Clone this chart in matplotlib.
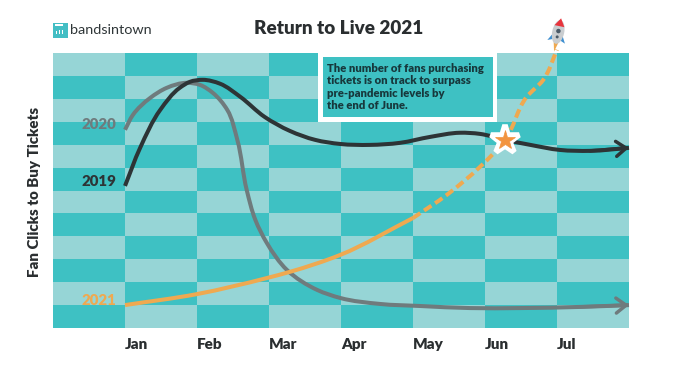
import numpy as np
import matplotlib
matplotlib.use("Agg")
import matplotlib.pyplot as plt
from matplotlib.path import Path
from matplotlib.patches import PathPatch, Rectangle, Polygon, Ellipse
from matplotlib.colors import ListedColormap
from matplotlib.transforms import Affine2D

plt.rcParams['font.family'] = ['Lato', 'DejaVu Sans']

TITLE = "Return to Live 2021"
YLABEL = "Fan Clicks to Buy Tickets"
MONTHS = ["Jan", "Feb", "Mar", "Apr", "May", "Jun", "Jul"]
NOTE = ("The number of fans purchasing\ntickets is on track to surpass\n"
        "pre-pandemic levels by\nthe end of June.")

x_2019 = [0, .21, .49, .76, .9, 1.08, 1.32, 1.6, 1.94, 2.29, 2.64, 2.99, 3.4, 3.82, 4.24, 4.65, 4.93, 5.28, 5.63, 6.04, 6.46, 7.0]
y_2019 = [6.2, 7.86, 9.52, 10.48, 10.74, 10.83, 10.66, 10.09, 9.21, 8.6, 8.21, 8.03, 7.99, 8.08, 8.34, 8.52, 8.47, 8.21, 7.99, 7.77, 7.73, 7.86]
x_2020 = [0, .11, .35, .58, .86, 1.04, 1.22, 1.42, 1.56, 1.69, 1.81, 1.97, 2.25, 2.67, 2.99, 3.54, 4.1, 4.79, 5.49, 6.32, 7.0]
y_2020 = [8.65, 9.3, 10.04, 10.48, 10.7, 10.61, 10.26, 9.52, 8.21, 6.03, 4.72, 3.71, 2.53, 1.66, 1.31, 1.05, .96, .87, .87, .92, 1.0]
x_2021_actual = [0, 1, 1.97, 2.29, 2.99, 4.0]
y_2021_actual = [1.0, 1.48, 2.18, 2.45, 3.19, 4.8]
x_2021_proj = [4.0, 4.47, 4.93, 5.28, 5.58, 5.81, 6.0]
y_2021_proj = [4.8, 5.81, 7.03, 8.21, 10.09, 10.83, 12.14]
star_x, star_y = 5.28, 8.21

TEAL, PALE = "#3EC1C3", "#96D5D6"
C2019, C2020, C2021 = "#2D3436", "#6F7B7D", "#EFA950"
W, H = 678, 381


def smooth_path(x, y):
    """Chord-length Catmull-Rom through the read points, as Bezier segments."""
    p = np.column_stack([x, y])
    chord = np.hypot(np.diff(p[:, 0]) * 72, np.diff(p[:, 1]) * 22.9)
    t = np.concatenate([[0], np.cumsum(chord)])
    m = np.gradient(p, t, axis=0)
    verts, codes = [p[0]], [Path.MOVETO]
    for i in range(len(p) - 1):
        h = t[i + 1] - t[i]
        verts += [p[i] + m[i] * h / 3, p[i + 1] - m[i + 1] * h / 3, p[i + 1]]
        codes += [Path.CURVE4] * 3
    return Path(np.array(verts), codes)


fig = plt.figure(figsize=(W / 100, H / 100), dpi=100, facecolor="white")
ax = fig.add_axes([53 / W, 1 - 328 / H, 576 / W, 275 / H])
ax.set_xlim(-1, 7)
ax.set_ylim(0, 12)

# checkerboard background
cells = np.fromfunction(lambda r, c: (r + c) % 2, (12, 8))
ax.pcolormesh(np.arange(-1, 8), np.arange(0, 13), cells,
              cmap=ListedColormap([TEAL, PALE]), zorder=0, linewidth=0, antialiased=False)
for s in ax.spines.values():
    s.set_visible(False)

ax.set_xticks(range(7))
ax.set_xticklabels(MONTHS, fontsize=11, fontweight="heavy", color="#2A2E30", ha="left")
ax.tick_params(axis="x", length=0, pad=7)
ax.set_yticks([])
fig.text(35 / W, 1 - 192 / H, YLABEL, rotation=90, fontsize=10.8, fontweight="heavy",
         color="#2A2E30", ha="center", va="center")
fig.text(339 / W, 1 - 29 / H, TITLE, fontsize=13.6, fontweight="heavy", color="#2A2E30",
         ha="center", va="center")


def curve(x, y, color, lw, zorder, **kw):
    ax.add_patch(PathPatch(smooth_path(x, y), fc="none", ec=color, lw=lw, zorder=zorder,
                           capstyle="butt", clip_on=False, **kw))


def arrow(x, y, color, lw, zorder):
    ax.annotate("", xy=(x[-1], y[-1]), xytext=(x[-2], y[-2]), annotation_clip=False, zorder=zorder,
                arrowprops=dict(arrowstyle="->,head_length=0.72,head_width=0.54", color=color,
                                lw=lw, shrinkA=0, shrinkB=0))


curve(x_2020, y_2020, C2020, 2.9, 3)
arrow(x_2020, y_2020, C2020, 2.5, 3)
curve(x_2019, y_2019, C2019, 2.9, 4)
arrow(x_2019, y_2019, C2019, 2.5, 4)
curve(x_2021_actual, y_2021_actual, C2021, 2.9, 5)
curve(x_2021_proj, y_2021_proj, C2021, 2.9, 5, linestyle=(0, (2.2, 1.1)))

ax.plot([star_x], [star_y], marker="*", ms=21, mfc="white", mec="white", mew=4, zorder=6,
        clip_on=False, ls="none")
ax.plot([star_x], [star_y], marker="*", ms=15, mfc="#F2943F", mec="#F2943F", mew=0.5, zorder=7,
        clip_on=False, ls="none")

for label, series, color in [("2020", y_2020, C2020), ("2019", y_2019, C2019), ("2021", y_2021_actual, C2021)]:
    ax.annotate(label, xy=(0, series[0]), xytext=(-6.5, 3.5), textcoords="offset points",
                ha="right", va="center", fontsize=10.8, fontweight="heavy", color=color, zorder=5)

# pixel-space decoration (y downward from top of the figure)
px = Affine2D().scale(1, -1).translate(0, H)
fig.add_artist(Rectangle((318, 53), 179, 69, fc="white", ec="none", transform=px, zorder=8))
fig.add_artist(Rectangle((323, 57), 170, 60, fc=TEAL, ec="none", transform=px, zorder=9))
fig.text(327 / W, 1 - 87 / H, NOTE, fontsize=8.1, fontweight="heavy", color="#17383C",
         ha="left", va="center", linespacing=1.17, zorder=10)

# logo
fig.add_artist(Rectangle((53, 23), 14.5, 15, fc="#43BEC4", ec="none", transform=px, zorder=8))
for bx, by, bh in [(55.5, 31, 3), (58.5, 30, 4), (61.5, 30, 4)]:
    fig.add_artist(Rectangle((bx, by), 1.8, bh, fc="white", ec="none", transform=px, zorder=9))
fig.add_artist(Rectangle((55, 24), 8, 2, fc="white", ec="none", transform=px, zorder=9))
fig.text(70 / W, 1 - 30.5 / H, "bandsintown", fontsize=10.4, color="#2F3638", ha="left", va="center")

# rocket
rk = Affine2D().rotate_deg(12).translate(558, 33) + px
fig.add_artist(Polygon([(-9, 9), (-4, 0), (-4, 7)], fc="#3E8FD0", ec="none", transform=rk, zorder=8))
fig.add_artist(Polygon([(9, 9), (4, 0), (4, 7)], fc="#3E8FD0", ec="none", transform=rk, zorder=8))
fig.add_artist(Polygon([(-2.5, 9), (2.5, 9), (0, 19)], fc="#EFA950", ec="none", transform=rk, zorder=8))
fig.add_artist(Ellipse((0, -1), 12, 24, fc="#C9CDD0", ec="none", transform=rk, zorder=9))
fig.add_artist(Polygon([(-5, -7), (5, -7), (0, -15)], fc="#E8343C", ec="none", transform=rk, zorder=10))
fig.add_artist(Ellipse((0, -2), 4.5, 4.5, fc="#4A5A68", ec="none", transform=rk, zorder=10))
fig.add_artist(Ellipse((0, 4), 3, 3, fc="#4A5A68", ec="none", transform=rk, zorder=10))

fig.savefig("out.png", dpi=100, facecolor="white")
